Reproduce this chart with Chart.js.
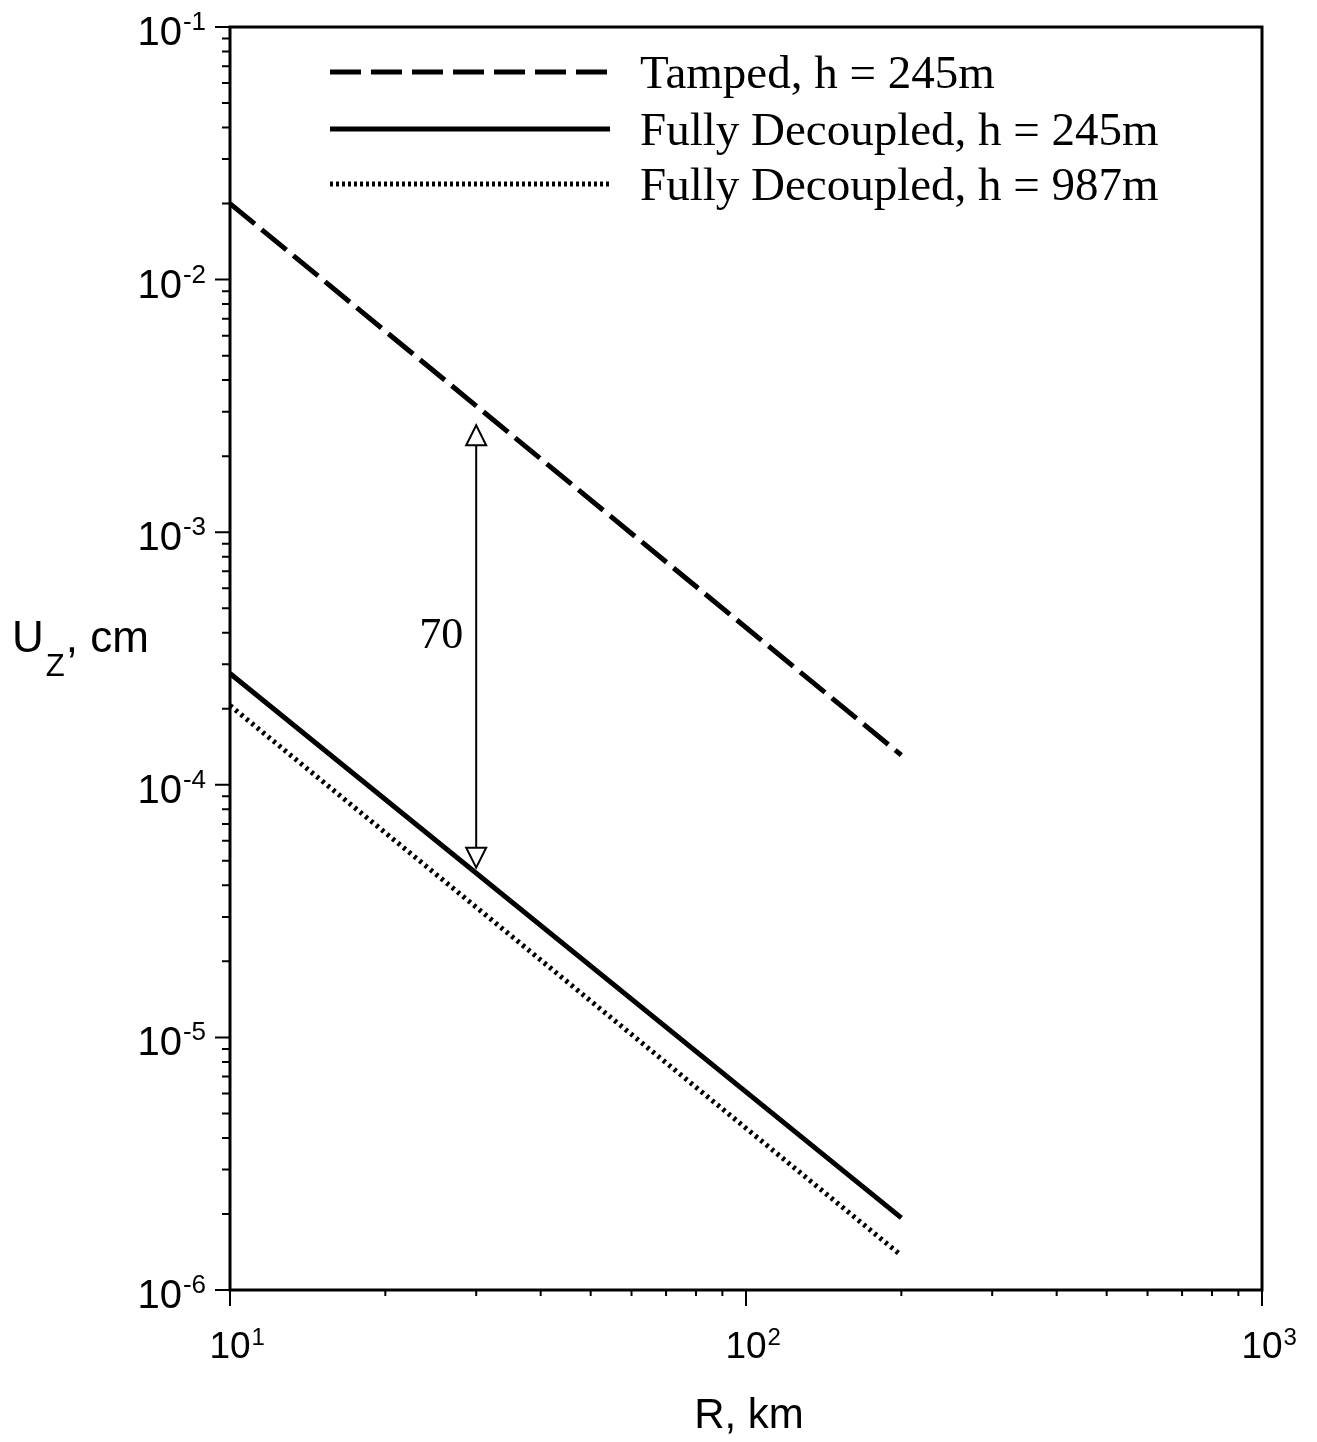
<!DOCTYPE html>
<html>
<head>
<meta charset="utf-8">
<script src="https://cdn.jsdelivr.net/npm/chart.js@4.4.0/dist/chart.umd.min.js"></script>
<style>
  html, body { margin: 0; padding: 0; background: #fff; }
  canvas { display: block; }
</style>
</head>
<body>
<canvas id="chart" width="1317" height="1442"></canvas>
<script>
// Vertical displacement Uz (cm) versus range R (km)
const rangeKm = [10, 200];
const tamped245 = [2.0e-2, 1.31e-4];
const decoupled245 = [2.76e-4, 1.93e-6];
const decoupled987 = [2.06e-4, 1.37e-6];
const seriesLabels = ['Tamped, h = 245m', 'Fully Decoupled, h = 245m', 'Fully Decoupled, h = 987m'];

// Decade tick values and their exponents
const xDecades = [10, 100, 1000];
const xExponents = ['1', '2', '3'];
const yDecades = [1e-6, 1e-5, 1e-4, 1e-3, 1e-2, 1e-1];
const yExponents = ['-6', '-5', '-4', '-3', '-2', '-1'];

// Decoupling factor marker at R = 30 km
const ratioR = 30;
const ratioTop = 2.65e-3;
const ratioBottom = 4.7e-5;
const ratioText = '70';

const SANS = '"Liberation Sans", Arial, Helvetica, sans-serif';
const SERIF = '"Liberation Serif", "Times New Roman", serif';

const styles = [
  { width: 5, dash: [32, 9], legendDash: [31, 10] },
  { width: 5, dash: [], legendDash: [] },
  { width: 5, dash: [3, 4], legendDash: [3, 3] }
];

function toPoints(xs, ys) {
  return xs.map((x, i) => ({ x: x, y: ys[i] }));
}

function minorValues(decades) {
  const out = [];
  for (let i = 0; i < decades.length - 1; i++) {
    for (let m = 2; m <= 9; m++) out.push(decades[i] * m);
  }
  return out;
}

const framePlugin = {
  id: 'frame',
  afterDatasetsDraw(chart) {
    const ctx = chart.ctx;
    const a = chart.chartArea;
    const xs = chart.scales.x;
    const ys = chart.scales.y;
    ctx.save();
    ctx.strokeStyle = '#000';
    ctx.fillStyle = '#000';
    ctx.setLineDash([]);
    ctx.lineCap = 'butt';

    // Box
    ctx.lineWidth = 3;
    ctx.strokeRect(a.left, a.top, a.right - a.left, a.bottom - a.top);

    // Ticks
    ctx.lineWidth = 2;
    ctx.beginPath();
    xDecades.forEach(v => {
      const px = xs.getPixelForValue(v);
      ctx.moveTo(px, a.bottom); ctx.lineTo(px, a.bottom + 16);
    });
    minorValues(xDecades).forEach(v => {
      const px = xs.getPixelForValue(v);
      ctx.moveTo(px, a.bottom); ctx.lineTo(px, a.bottom + 6);
    });
    yDecades.forEach(v => {
      const py = ys.getPixelForValue(v);
      ctx.moveTo(a.left, py); ctx.lineTo(a.left - 15, py);
    });
    minorValues(yDecades).forEach(v => {
      const py = ys.getPixelForValue(v);
      ctx.moveTo(a.left, py); ctx.lineTo(a.left - 8, py);
    });
    ctx.stroke();

    // X tick labels
    ctx.textBaseline = 'alphabetic';
    xDecades.forEach((v, i) => {
      const px = xs.getPixelForValue(v);
      ctx.font = '37px ' + SANS;
      ctx.textAlign = 'center';
      const w = ctx.measureText('10').width;
      ctx.fillText('10', px, a.bottom + 68);
      ctx.font = '24px ' + SANS;
      ctx.textAlign = 'left';
      ctx.fillText(xExponents[i], px + w / 2 + 1, a.bottom + 55);
    });

    // Y tick labels
    yDecades.forEach((v, i) => {
      const py = ys.getPixelForValue(v);
      const right = a.left - 24;
      ctx.font = '26px ' + SANS;
      ctx.textAlign = 'right';
      const sw = ctx.measureText(yExponents[i]).width;
      ctx.fillText(yExponents[i], right, py + 3);
      ctx.font = '40px ' + SANS;
      ctx.fillText('10', right - sw - 1, py + 18);
    });

    // Axis titles
    ctx.font = '42px ' + SANS;
    ctx.textAlign = 'center';
    ctx.fillText('R, km', (a.left + a.right) / 2 + 3, a.bottom + 138);

    ctx.textAlign = 'left';
    let x0 = 12;
    const base = 652;
    ctx.font = '44px ' + SANS;
    ctx.fillText('U', x0, base);
    x0 += ctx.measureText('U').width + 2;
    ctx.font = '31px ' + SANS;
    ctx.fillText('Z', x0, base + 24);
    x0 += ctx.measureText('Z').width + 1;
    ctx.font = '44px ' + SANS;
    ctx.fillText(', cm', x0, base);

    // Legend
    const rows = [72, 129, 184];
    chart.data.datasets.forEach((ds, i) => {
      const st = styles[i];
      ctx.lineWidth = st.width;
      ctx.setLineDash(st.legendDash);
      ctx.lineDashOffset = 0;
      ctx.beginPath();
      ctx.moveTo(330, rows[i]);
      ctx.lineTo(610, rows[i]);
      ctx.stroke();
      ctx.setLineDash([]);
      ctx.font = '47px ' + SERIF;
      ctx.textAlign = 'left';
      ctx.fillText(ds.label, 640, rows[i] + 16);
    });

    // Decoupling factor arrow
    const ax = xs.getPixelForValue(ratioR);
    const yTop = ys.getPixelForValue(ratioTop);
    const yBot = ys.getPixelForValue(ratioBottom);
    const th = 20, hw = 10;
    ctx.lineWidth = 2;
    ctx.beginPath();
    ctx.moveTo(ax, yTop + th);
    ctx.lineTo(ax, yBot - th);
    ctx.stroke();
    ctx.fillStyle = '#fff';
    ctx.beginPath();
    ctx.moveTo(ax, yTop);
    ctx.lineTo(ax - hw, yTop + th);
    ctx.lineTo(ax + hw, yTop + th);
    ctx.closePath();
    ctx.fill(); ctx.stroke();
    ctx.beginPath();
    ctx.moveTo(ax, yBot);
    ctx.lineTo(ax - hw, yBot - th);
    ctx.lineTo(ax + hw, yBot - th);
    ctx.closePath();
    ctx.fill(); ctx.stroke();

    ctx.fillStyle = '#000';
    ctx.font = '44px ' + SERIF;
    ctx.textAlign = 'center';
    ctx.textBaseline = 'middle';
    ctx.fillText(ratioText, ax - 35, (yTop + yBot) / 2 - 10);

    ctx.restore();
  }
};

const seriesValues = [tamped245, decoupled245, decoupled987];

new Chart(document.getElementById('chart'), {
  type: 'line',
  data: {
    datasets: seriesValues.map((vals, i) => ({
      label: seriesLabels[i],
      data: toPoints(rangeKm, vals),
      borderColor: '#000',
      borderWidth: styles[i].width,
      borderDash: styles[i].dash,
      borderCapStyle: 'butt',
      pointRadius: 0,
      tension: 0,
      fill: false
    }))
  },
  options: {
    responsive: false,
    animation: false,
    events: [],
    layout: { padding: { left: 230, right: 55, top: 27, bottom: 152 } },
    plugins: { legend: { display: false }, tooltip: { enabled: false } },
    scales: {
      x: { type: 'logarithmic', min: 10, max: 1000, display: false },
      y: { type: 'logarithmic', min: 1e-6, max: 1e-1, display: false }
    }
  },
  plugins: [framePlugin]
});
</script>
</body>
</html>
